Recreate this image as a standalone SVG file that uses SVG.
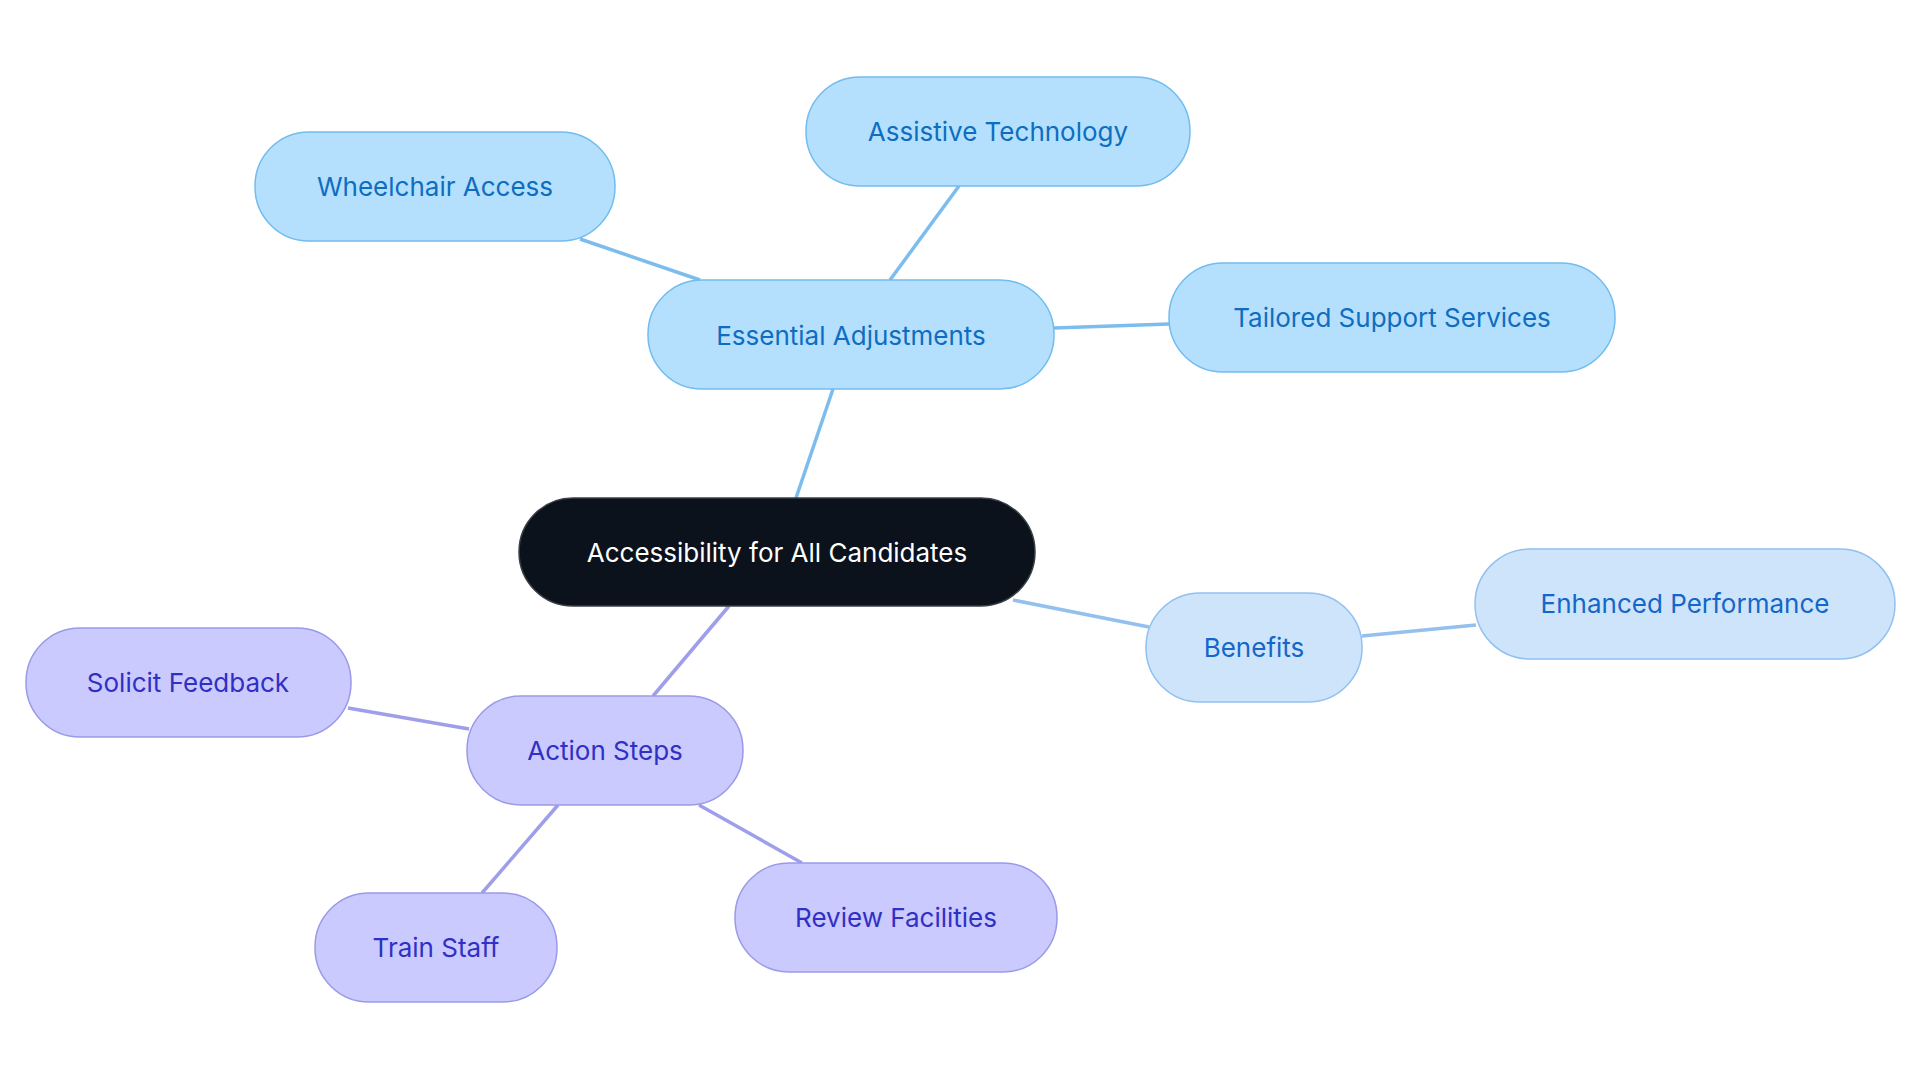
<svg xmlns="http://www.w3.org/2000/svg" width="1920" height="1083" viewBox="0 0 1920 1083">
<style>
text{font-family:Inter,"Noto Sans",sans-serif;font-size:26px;text-anchor:middle;dominant-baseline:central}
.b rect{fill:#b4e0fe;stroke:#72bcee;stroke-width:1.5}
.b text{fill:#0f6dbf}
.l rect{fill:#cde4fb;stroke:#92c0f0;stroke-width:1.5}
.l text{fill:#1467c8}
.p rect{fill:#cacafe;stroke:#9a9ae8;stroke-width:1.5}
.p text{fill:#3030c4}
.c rect{fill:#0b121b;stroke:#3a3f47;stroke-width:1.5}
.c text{fill:#ffffff}
#edges line{stroke-width:3.5;fill:none}
</style>
<rect width="1920" height="1083" fill="#fff"/>
<g id="edges">
<line x1="796" y1="498" x2="833" y2="389" stroke="#7cbdee"/>
<line x1="890" y1="280" x2="959" y2="186" stroke="#7cbdee"/>
<line x1="700" y1="280" x2="580" y2="239" stroke="#7cbdee"/>
<line x1="1054" y1="328" x2="1169" y2="324" stroke="#7cbdee"/>
<line x1="1013" y1="600" x2="1149" y2="627" stroke="#94c0ee"/>
<line x1="1362" y1="636" x2="1476" y2="625" stroke="#94c0ee"/>
<line x1="729" y1="606" x2="653" y2="696" stroke="#9e9eeb"/>
<line x1="469" y1="729" x2="348" y2="708" stroke="#9e9eeb"/>
<line x1="558" y1="805" x2="482" y2="893" stroke="#9e9eeb"/>
<line x1="699" y1="805" x2="802" y2="863" stroke="#9e9eeb"/>
</g>
<g id="center" class="c"><rect x="519" y="498" width="516" height="108" rx="54"/><text x="777" y="552">Accessibility for All Candidates</text></g>
<g id="essential" class="b"><rect x="648" y="280" width="406" height="109" rx="54"/><text x="851" y="335">Essential Adjustments</text></g>
<g id="assistive" class="b"><rect x="806" y="77" width="384" height="109" rx="54"/><text x="998" y="131">Assistive Technology</text></g>
<g id="wheelchair" class="b"><rect x="255" y="132" width="360" height="109" rx="54"/><text x="435" y="186">Wheelchair Access</text></g>
<g id="tailored" class="b"><rect x="1169" y="263" width="446" height="109" rx="54"/><text x="1392" y="317">Tailored Support Services</text></g>
<g id="benefits" class="l"><rect x="1146" y="593" width="216" height="109" rx="54"/><text x="1254" y="647">Benefits</text></g>
<g id="enhanced" class="l"><rect x="1475" y="549" width="420" height="110" rx="55"/><text x="1685" y="603">Enhanced Performance</text></g>
<g id="action" class="p"><rect x="467" y="696" width="276" height="109" rx="54"/><text x="605" y="750">Action Steps</text></g>
<g id="solicit" class="p"><rect x="26" y="628" width="325" height="109" rx="54"/><text x="188" y="682">Solicit Feedback</text></g>
<g id="train" class="p"><rect x="315" y="893" width="242" height="109" rx="54"/><text x="436" y="947">Train Staff</text></g>
<g id="review" class="p"><rect x="735" y="863" width="322" height="109" rx="54"/><text x="896" y="917">Review Facilities</text></g>
</svg>
